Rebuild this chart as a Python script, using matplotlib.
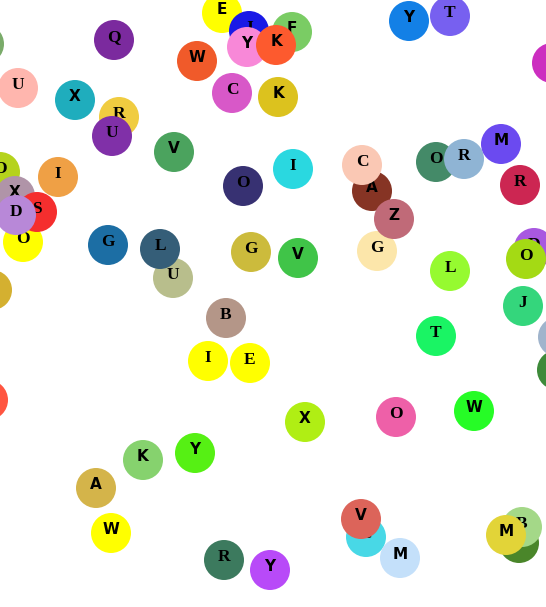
"""Letter bubbles scattered over a blank canvas."""

import matplotlib

matplotlib.use("Agg")

import matplotlib.pyplot as plt
from matplotlib.patches import Circle

# node centres in canvas pixels (origin top-left), in drawing order
xs = [-16, 114, 18, 75, 119, 112, 174, 197, 232, 222, 249, 292, 247, 276, 278,
      243, 0, 58, 15, 23, 37, 16, -8, -12, 108, 173, 160, 251, 226, 208, 250,
      409, 450, 552, 293, 372, 362, 436, 464, 501, 520, 377, 394, 298, 450,
      534, 526, 523, 558, 557, 436, 305, 396, 474, 366, 361, 400, 519, 522,
      506, 270, 143, 195, 96, 111, 224]
ys = [44, 40, 88, 100, 117, 136, 152, 61, 93, 13, 31, 32, 47, 45, 97,
      186, 172, 177, 196, 242, 212, 215, 290, 400, 245, 278, 249, 252, 318, 361, 363,
      21, 16, 63, 169, 191, 165, 162, 159, 144, 185, 251, 219, 258, 271,
      248, 259, 306, 337, 370, 336, 422, 417, 411, 537, 519, 558, 543, 527,
      535, 570, 460, 453, 488, 533, 560]
# nodes that sit past the canvas edge show no label
letters = ["", "Q", "U", "X", "R", "U", "V", "W", "C", "E", "J", "F", "Y", "K", "K",
           "O", "O", "I", "X", "O", "S", "D", "", "", "G", "U", "L", "G", "B", "I", "E",
           "Y", "T", "", "I", "A", "C", "O", "R", "M", "R", "G", "Z", "V", "L",
           "D", "O", "J", "", "", "T", "X", "O", "W", "C", "V", "M", "H", "B",
           "M", "Y", "K", "Y", "A", "W", "R"]
colors = ["#7aab6a", "#7b2a9e", "#ffb6ae", "#1fadbd", "#f0cc40", "#8030a8", "#4ba35e",
          "#f05a2a", "#d858c8", "#ffff00", "#1a1ae6", "#7acc64", "#f888d8", "#fd5a2e",
          "#dcc21e", "#373172", "#b5d31c", "#efa045", "#b094a8", "#ffff00", "#f52e2e",
          "#b888d8", "#d4b030", "#ff5540", "#1c6ea4", "#b8be8c", "#355e78", "#ccbb3c",
          "#b49688", "#ffff00", "#ffff00", "#1380e6", "#7760f0", "#cc2ec0", "#2ad8e0",
          "#863424", "#fac8b4", "#448a68", "#8fb4d4", "#6b4af0", "#cc2652", "#fce6aa",
          "#c06a78", "#40c448", "#96fa30", "#a858e0", "#a4da14", "#34d67c", "#a0b4cc",
          "#3e8a3a", "#1af464", "#b0ee14", "#ee60a8", "#26fc26", "#48d8e6", "#dc645a",
          "#c4e0fa", "#4a862a", "#a4d888", "#e2d438", "#b84af8", "#86d26e", "#56f014",
          "#d4b44a", "#ffff00", "#3c7a5e"]
# which labels are set in the serif face
serif_flags = [0, 1, 1, 0, 1, 1, 0, 0, 1, 0, 1, 0, 0, 0, 0,
               1, 1, 1, 0, 1, 1, 1, 0, 0, 1, 1, 1, 1, 1, 1, 1,
               0, 1, 1, 1, 0, 1, 1, 1, 0, 1, 1, 0, 0, 1,
               1, 1, 1, 0, 0, 1, 0, 1, 0, 0, 0, 0, 0, 1,
               0, 0, 0, 0, 0, 0, 1]

W, H = 546, 607
RADIUS = 20

fig = plt.figure(figsize=(W / 100, H / 100), dpi=100)
ax = fig.add_axes([0, 0, 1, 1])
ax.set_xlim(0, W)
ax.set_ylim(H, 0)
ax.set_aspect("equal")
ax.axis("off")

for i, (x, y, letter, color, serif) in enumerate(zip(xs, ys, letters, colors, serif_flags)):
    ax.add_patch(Circle((x, y), RADIUS, facecolor=color, edgecolor="none", zorder=2 * i))
    if not letter:
        continue
    family = "Liberation Serif" if serif else "DejaVu Sans"
    ax.text(x, y + 1, letter, ha="center", va="baseline", fontsize=12.5 if serif else 11,
            fontweight="bold", family=family, color="black", zorder=2 * i + 1)

fig.savefig("out.png", dpi=100)
